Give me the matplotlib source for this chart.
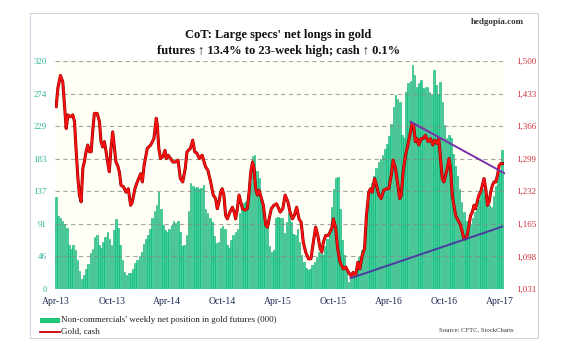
import matplotlib.pyplot as plt
import matplotlib.patheffects as pe
from matplotlib.patches import Rectangle
from matplotlib.lines import Line2D
import numpy as np

plt.rcParams['font.family'] = ['Liberation Serif', 'DejaVu Serif']

# weekly net longs of non-commercials (000), Apr-2013 .. Apr-2017
net_longs = [
    129, 103, 100, 96, 91, 86, 62, 56, 61, 54, 40, 25, 14, 19, 28, 35, 50, 56, 73, 76,
    62, 57, 66, 73, 80, 70, 62, 82, 98, 86, 62, 40, 24, 20, 22, 23, 28, 36, 40, 46,
    52, 63, 70, 76, 84, 100, 110, 118, 136, 112, 90, 82, 80, 84, 90, 96, 92, 96, 80, 60,
    62, 75, 110, 148, 145, 142, 143, 140, 142, 146, 112, 107, 100, 94, 74, 64, 66, 86, 88, 84,
    62, 57, 68, 75, 80, 84, 106, 116, 120, 124, 128, 148, 186, 188, 166, 155, 128, 110, 94, 85,
    60, 52, 54, 100, 101, 99, 99, 78, 94, 106, 94, 77, 75, 84, 66, 48, 38, 30, 26, 28,
    33, 38, 45, 52, 50, 47, 60, 70, 84, 115, 140, 155, 157, 112, 68, 47, 25, 10, 14, 18,
    22, 28, 45, 55, 62, 90, 120, 136, 148, 158, 170, 178, 183, 188, 196, 203, 215, 232, 255, 272,
    267, 262, 216, 212, 276, 289, 292, 314, 300, 284, 289, 293, 282, 284, 283, 276, 272, 307, 286, 274,
    290, 262, 230, 212, 216, 212, 190, 172, 158, 140, 122, 108, 95, 82, 90, 100, 108, 114, 125, 135,
    140, 130, 120, 118, 115, 130, 145, 160, 165, 195,
]

# gold, cash: week index and price
gold_week = [
    0, 0.8, 2, 3.1, 3.9, 4.7, 5.5, 6.7, 7.8, 8.6, 9.4, 10.2, 10.9, 11.7, 12.5, 13.2, 14, 14.8,
    15.6, 16.4, 17.1, 17.9, 19.2, 20.3, 21, 21.8, 22.6, 23.4, 24.1, 24.9, 25.7, 26.5, 27.3, 28,
    28.8, 29.6, 30.4, 31.6, 32.7, 33.8, 34.9, 35.7, 36.9, 38, 39.6, 40.4, 41.2, 42.7, 44.3, 45.8,
    46.9, 47.4, 48.1, 48.9, 50, 51, 51.6, 52.5, 53.6, 54.7, 55.9, 57.1, 58.2, 59.3, 60.5, 61.3,
    62.9, 64, 64.9, 66, 67.1, 68.4, 70, 71.1, 72.4, 73.6, 74.7, 75.5, 76.3, 77.1, 77.8, 78.6,
    79.4, 80.2, 81.4, 82.6, 83.4, 84.1, 84.9, 85.7, 86.5, 87.3, 88.4, 89.6, 90.4, 91.2, 92, 92.7,
    93.5, 94.3, 95.1, 96.2, 97.1, 98.2, 99, 99.8, 100.8, 102, 103.3, 104, 105, 106.2, 107.3,
    108.6, 109.6, 110.7, 111.6, 112.7, 113.8, 114.8, 115.8, 116.9, 118.2, 119.4, 120.5, 121.6,
    122.6, 123.7, 124.5, 125.2, 126.3, 127.5, 128.3, 129.1, 129.9, 131, 131.9, 133, 133.8,
    134.6, 135.7, 137, 138.2, 139.2, 140.3, 141.4, 142.3, 143.4, 144.5, 145.4, 146.5, 147.3,
    148.1, 149.2, 150.1, 151.2, 152.3, 153.5, 154.8, 155.9, 157, 157.9, 159, 160.1, 161, 161.7,
    162.6, 163.7, 164.8, 165.7, 166.8, 167.6, 168.3, 169.1, 169.9, 171, 171.9, 173, 174.3,
    175.4, 176.5, 177.4, 178.5, 179.3, 180.1, 180.9, 181.7, 182.5, 183.3, 184.1, 184.8, 185.6,
    186.4, 187.2, 188, 188.8, 189.5, 190.3, 191.1, 191.9, 192.6, 193.4, 194.2, 195, 195.8,
    196.5, 197.3, 198.1, 198.9, 199.7, 200.5, 201.3, 202.1, 202.9, 203.6, 204.4, 205.2, 206,
    206.8, 207.6, 208.4, 209.1,
]
gold_price = [
    1406, 1444, 1470, 1457, 1409, 1361, 1389, 1385, 1389, 1375, 1313, 1258, 1224, 1210, 1279,
    1292, 1313, 1327, 1313, 1313, 1354, 1392, 1392, 1375, 1334, 1323, 1334, 1313, 1292, 1272,
    1320, 1354, 1320, 1292, 1285, 1272, 1244, 1241, 1230, 1237, 1203, 1210, 1237, 1251, 1268,
    1251, 1285, 1320, 1327, 1340, 1382, 1368, 1320, 1299, 1303, 1316, 1299, 1306, 1299, 1292,
    1292, 1296, 1258, 1251, 1279, 1313, 1320, 1337, 1313, 1310, 1299, 1306, 1282, 1275, 1251,
    1224, 1217, 1196, 1210, 1230, 1237, 1224, 1182, 1175, 1189, 1199, 1189, 1175, 1196, 1224,
    1210, 1196, 1193, 1196, 1230, 1272, 1292, 1279, 1237, 1224, 1234, 1217, 1203, 1162, 1158,
    1175, 1196, 1203, 1206, 1199, 1189, 1196, 1224, 1210, 1189, 1175, 1182, 1199, 1175, 1168,
    1127, 1107, 1093, 1093, 1127, 1158, 1141, 1114, 1107, 1127, 1141, 1141, 1148, 1155, 1175,
    1155, 1114, 1086, 1079, 1072, 1076, 1065, 1058, 1065, 1058, 1086, 1072, 1100, 1114, 1182,
    1230, 1237, 1230, 1258, 1244, 1224, 1217, 1234, 1237, 1237, 1265, 1296, 1279, 1244, 1217,
    1224, 1272, 1306, 1327, 1347, 1371, 1364, 1334, 1340, 1327, 1340, 1340, 1347, 1334, 1340,
    1327, 1337, 1330, 1340, 1299, 1258, 1251, 1265, 1279, 1299, 1279, 1224, 1203, 1182, 1175,
    1168, 1162, 1148, 1134, 1134, 1141, 1162, 1182, 1189, 1203, 1196, 1210, 1224, 1230, 1244,
    1258, 1237, 1203, 1210, 1230, 1244, 1251, 1251, 1265, 1285, 1289, 1289,
]

# trend lines (week, gold price)
resist_week = [166, 211.3]
resist_price = [1375, 1266]
support_week = [137.9, 209]
support_price = [1053, 1159]

left_ticks = [0, 46, 91, 137, 183, 229, 274, 320]
right_ticks = [1031, 1098, 1165, 1232, 1299, 1366, 1433, 1500]
x_tick_week = [0, 26, 52, 78, 104, 130, 156, 182, 208]
x_tick_labels = ['Apr-13', 'Oct-13', 'Apr-14', 'Oct-14', 'Apr-15', 'Oct-15', 'Apr-16', 'Oct-16', 'Apr-17']

fig = plt.figure(figsize=(5.68, 3.46), dpi=100)
fig.patch.set_facecolor('white')
ax = fig.add_axes([0.097, 0.165, 0.792, 0.659])
ax.set_facecolor('#fffff5')

weeks = np.arange(len(net_longs))
ax.bar(weeks, net_longs, width=0.75, color='#40d3a0', edgecolor='#0bab6e', linewidth=0.4, zorder=2)
ax.set_ylim(0, 320)
ax.set_xlim(-0.5, 210.3)
ax.set_yticks(left_ticks)
ax.set_yticklabels([str(t) for t in left_ticks])
ax.grid(axis='y', color='#888888', linestyle=(0, (4, 3)), linewidth=0.8, alpha=0.75, zorder=3)
ax.set_axisbelow(False)
ax.set_xticks(x_tick_week)
ax.set_xticklabels(x_tick_labels)
ax.tick_params(axis='x', length=0, pad=6, labelsize=7, labelcolor='#1f2a55')
ax.tick_params(axis='y', length=0, pad=6, labelsize=6.5, labelcolor='#2fb39b')
for s in ax.spines.values():
    s.set_visible(False)

ax2 = ax.twinx()
ax2.set_ylim(1031, 1500)
ax2.set_yticks(right_ticks)
ax2.set_yticklabels([f'{t:,}' for t in right_ticks])
ax2.tick_params(axis='y', length=0, pad=8, labelsize=6.5, labelcolor='#d0333d')
for s in ax2.spines.values():
    s.set_visible(False)
ax2.plot(gold_week, gold_price, color='#ff1010', linewidth=1.4, zorder=5,
         path_effects=[pe.Stroke(linewidth=2.2, foreground='#8a0000'), pe.Normal()])
ax2.plot(resist_week, resist_price, color='#7b2fa8', linewidth=1.4, zorder=6)
ax2.plot(support_week, support_price, color='#4b3aa0', linewidth=1.4, zorder=6)

# outer frame
fig.add_artist(Rectangle((0.053, 0.023), 0.894, 0.94, transform=fig.transFigure,
                         fill=False, edgecolor='#c9d5e3', linewidth=0.8))

fig.text(0.922, 0.935, 'hedgopia.com', ha='right', va='center', fontsize=6.5,
         fontweight='bold', color='#333333')
fig.text(0.49, 0.898, "CoT: Large specs' net longs in gold", ha='center', va='center',
         fontsize=9, fontweight='bold', color='#111111')
fig.text(0.49, 0.853, "futures \u2191 13.4% to 23-week high; cash \u2191 0.1%", ha='center',
         va='center', fontsize=9, fontweight='bold', color='#111111',
         family=['Liberation Serif', 'DejaVu Serif'])

# legend
fig.add_artist(Rectangle((0.07, 0.067), 0.035, 0.014, transform=fig.transFigure,
                         facecolor='#1fc77a', edgecolor='none'))
fig.text(0.108, 0.074, "Non-commercials' weekly net position in gold futures (000)",
         ha='left', va='center', fontsize=6.5, color='#222222')
fig.add_artist(Line2D([0.07, 0.105], [0.041, 0.041], transform=fig.transFigure,
                      color='#cc0000', linewidth=1.3))
fig.text(0.108, 0.041, 'Gold, cash', ha='left', va='center', fontsize=6.5, color='#222222')
fig.text(0.905, 0.046, 'Source: CFTC, StockCharts', ha='right', va='center', fontsize=4.8,
         color='#333333')

fig.savefig('out.png', dpi=100)
